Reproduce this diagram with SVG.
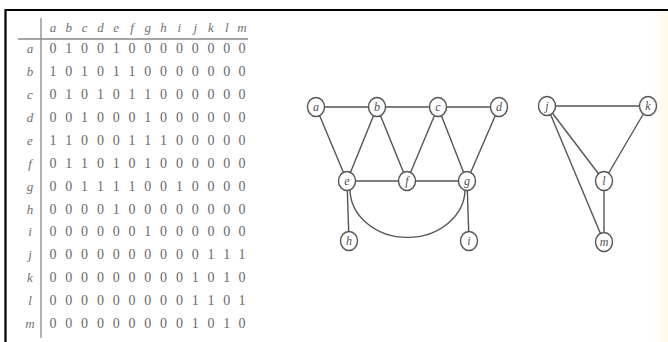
<svg xmlns="http://www.w3.org/2000/svg" width="668" height="342" viewBox="0 0 668 342">
<defs>
<style>
.bg{fill:#ffffff}
.frame{stroke:#000;stroke-width:2.2;fill:none}
.rule{stroke:#8a8a8a;stroke-width:1.3;fill:none}
.hdr{font-family:"Liberation Serif",serif;font-style:italic;font-size:13px;fill:#707070;text-anchor:middle}
.num{font-family:"Liberation Serif",serif;font-size:14px;fill:#6a6a6a;text-anchor:middle}
.edge{stroke:#555;stroke-width:1.4;fill:none}
.node ellipse{fill:#fff;stroke:#555;stroke-width:1.4}
.node text{font-family:"Liberation Serif",serif;font-style:italic;font-size:12px;fill:#505050;text-anchor:middle}
</style>
<linearGradient id="yel" x1="0" y1="0" x2="1" y2="0">
<stop offset="0" stop-color="#fffbe0" stop-opacity="0"/>
<stop offset="1" stop-color="#fff6c8" stop-opacity="0.55"/>
</linearGradient>
</defs>
<rect class="bg" x="0" y="0" width="668" height="342"/>
<rect x="650" y="12" width="18" height="330" fill="url(#yel)"/>
<path class="frame" d="M5.5,342 V10 H668"/>

<g id="matrix">
<line class="rule" x1="41" y1="18" x2="41" y2="338"/>
<line class="rule" x1="18" y1="39" x2="248" y2="39"/>
<text class="hdr" x="53 68.8 84.6 100.4 116.2 132 147.8 163.6 179.4 195.2 211 226.8 242" y="32">abcdefghijklm</text>
<text class="hdr" x="30" y="53">a</text>
<text class="hdr" x="30" y="75.9">b</text>
<text class="hdr" x="30" y="98.9">c</text>
<text class="hdr" x="30" y="121.8">d</text>
<text class="hdr" x="30" y="144.7">e</text>
<text class="hdr" x="30" y="167.6">f</text>
<text class="hdr" x="30" y="190.6">g</text>
<text class="hdr" x="30" y="213.5">h</text>
<text class="hdr" x="30" y="236.4">i</text>
<text class="hdr" x="30" y="259.4">j</text>
<text class="hdr" x="30" y="282.3">k</text>
<text class="hdr" x="30" y="305.2">l</text>
<text class="hdr" x="30" y="328.2">m</text>
<g class="num">
<text x="53 68.8 84.6 100.4 116.2 132 147.8 163.6 179.4 195.2 211 226.8 242" y="53">0100100000000</text>
<text x="53 68.8 84.6 100.4 116.2 132 147.8 163.6 179.4 195.2 211 226.8 242" y="75.9">1010110000000</text>
<text x="53 68.8 84.6 100.4 116.2 132 147.8 163.6 179.4 195.2 211 226.8 242" y="98.9">0101011000000</text>
<text x="53 68.8 84.6 100.4 116.2 132 147.8 163.6 179.4 195.2 211 226.8 242" y="121.8">0010001000000</text>
<text x="53 68.8 84.6 100.4 116.2 132 147.8 163.6 179.4 195.2 211 226.8 242" y="144.7">1100011100000</text>
<text x="53 68.8 84.6 100.4 116.2 132 147.8 163.6 179.4 195.2 211 226.8 242" y="167.6">0110101000000</text>
<text x="53 68.8 84.6 100.4 116.2 132 147.8 163.6 179.4 195.2 211 226.8 242" y="190.6">0011110010000</text>
<text x="53 68.8 84.6 100.4 116.2 132 147.8 163.6 179.4 195.2 211 226.8 242" y="213.5">0000100000000</text>
<text x="53 68.8 84.6 100.4 116.2 132 147.8 163.6 179.4 195.2 211 226.8 242" y="236.4">0000001000000</text>
<text x="53 68.8 84.6 100.4 116.2 132 147.8 163.6 179.4 195.2 211 226.8 242" y="259.4">0000000000111</text>
<text x="53 68.8 84.6 100.4 116.2 132 147.8 163.6 179.4 195.2 211 226.8 242" y="282.3">0000000001010</text>
<text x="53 68.8 84.6 100.4 116.2 132 147.8 163.6 179.4 195.2 211 226.8 242" y="305.2">0000000001101</text>
<text x="53 68.8 84.6 100.4 116.2 132 147.8 163.6 179.4 195.2 211 226.8 242" y="328.2">0000000001010</text>
</g>
</g>

<g id="connectors">
<line class="edge" x1="316" y1="107" x2="377" y2="107"/>
<line class="edge" x1="377" y1="107" x2="438" y2="107"/>
<line class="edge" x1="438" y1="107" x2="499" y2="107"/>
<line class="edge" x1="316" y1="107" x2="347" y2="181"/>
<line class="edge" x1="377" y1="107" x2="347" y2="181"/>
<line class="edge" x1="377" y1="107" x2="407" y2="181"/>
<line class="edge" x1="438" y1="107" x2="407" y2="181"/>
<line class="edge" x1="438" y1="107" x2="467" y2="181"/>
<line class="edge" x1="499" y1="107" x2="467" y2="181"/>
<line class="edge" x1="347" y1="181" x2="467" y2="181"/>
<line class="edge" x1="347" y1="181" x2="349" y2="241"/>
<line class="edge" x1="467" y1="181" x2="469" y2="241"/>
<path class="edge" d="M350,189 A57,48 0 0 0 465,189"/>
<line class="edge" x1="547" y1="106" x2="648" y2="106"/>
<line class="edge" x1="547" y1="106" x2="604" y2="181"/>
<line class="edge" x1="648" y1="106" x2="604" y2="181"/>
<line class="edge" x1="547" y1="106" x2="604" y2="242"/>
<line class="edge" x1="604" y1="181" x2="604" y2="242"/>
</g>

<g id="node-a" class="node"><ellipse cx="316" cy="107" rx="8.5" ry="9.5"/><text x="316" y="111">a</text></g>
<g id="node-b" class="node"><ellipse cx="377" cy="107" rx="8.5" ry="9.5"/><text x="377" y="111">b</text></g>
<g id="node-c" class="node"><ellipse cx="438" cy="107" rx="8.5" ry="9.5"/><text x="438" y="111">c</text></g>
<g id="node-d" class="node"><ellipse cx="499" cy="107" rx="8.5" ry="9.5"/><text x="499" y="111">d</text></g>
<g id="node-e" class="node"><ellipse cx="347" cy="181" rx="8.5" ry="9.5"/><text x="347" y="185">e</text></g>
<g id="node-f" class="node"><ellipse cx="407" cy="181" rx="8.5" ry="9.5"/><text x="407" y="185">f</text></g>
<g id="node-g" class="node"><ellipse cx="467" cy="181" rx="8.5" ry="9.5"/><text x="467" y="185">g</text></g>
<g id="node-h" class="node"><ellipse cx="349" cy="241" rx="8.5" ry="9.5"/><text x="349" y="245">h</text></g>
<g id="node-i" class="node"><ellipse cx="469" cy="241" rx="8.5" ry="9.5"/><text x="469" y="245">i</text></g>
<g id="node-j" class="node"><ellipse cx="547" cy="106" rx="8.5" ry="9.5"/><text x="547" y="110">j</text></g>
<g id="node-k" class="node"><ellipse cx="648" cy="106" rx="8.5" ry="9.5"/><text x="648" y="110">k</text></g>
<g id="node-l" class="node"><ellipse cx="604" cy="181" rx="8.5" ry="9.5"/><text x="604" y="185">l</text></g>
<g id="node-m" class="node"><ellipse cx="604" cy="242" rx="8.5" ry="9.5"/><text x="604" y="246">m</text></g>
</svg>
